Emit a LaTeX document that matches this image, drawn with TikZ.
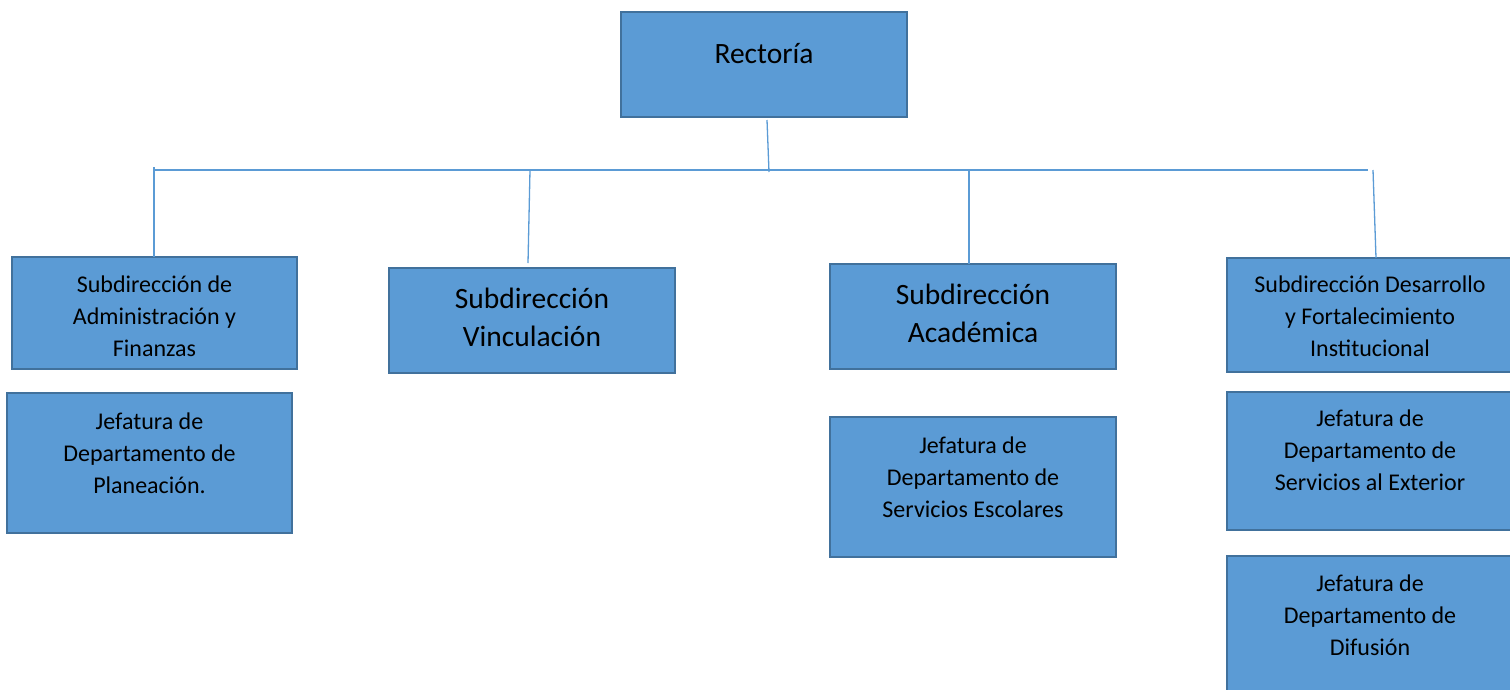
\documentclass[tikz,border=0pt]{standalone}
\usepackage{fontspec}
\setmainfont{Carlito}
\definecolor{boxfill}{HTML}{5B9BD5}
\definecolor{boxline}{HTML}{41719C}
\definecolor{connc}{HTML}{5B9BD5}
\begin{document}
\begin{tikzpicture}[x=1pt,y=-1pt,
  box/.style={draw=boxline, fill=boxfill, line width=2.5pt, rectangle, inner sep=0pt},
  small/.style={align=center, font=\fontsize{24}{31.8}\selectfont, inner sep=0pt, text=black},
  big/.style={align=center, font=\fontsize{29.5}{38}\selectfont, inner sep=0pt, text=black},
  conn/.style={draw=connc, line width=1.3pt}]
\useasboundingbox (0,0) rectangle (1510,689);
\clip (0,0) rectangle (1510,689);
% boxes
\node[box, minimum width=286pt, minimum height=105pt] (rect) at (764,64.5) {};
\node[box, minimum width=285pt, minimum height=112pt] (admin) at (154.5,313) {};
\node[box, minimum width=286pt, minimum height=105pt] (vinc) at (532,320.5) {};
\node[box, minimum width=286pt, minimum height=105pt] (acad) at (973,316.5) {};
\node[box, minimum width=286pt, minimum height=114pt] (desa) at (1370,315) {};
\node[box, minimum width=285pt, minimum height=140pt] (plan) at (149.5,463) {};
\node[box, minimum width=286pt, minimum height=140pt] (esco) at (973,487) {};
\node[box, minimum width=286pt, minimum height=138pt] (exte) at (1370,461) {};
\node[box, minimum width=286pt, minimum height=140pt] (difu) at (1370,626) {};
% texts
\node[big] (trect) at (764,54) {Rectoría};
\node[small] (tadmin) at (154.5,316) {Subdirección de\\Administración y\\Finanzas};
\node[big] (tvinc) at (532,317) {Subdirección\\Vinculación};
\node[big] (tacad) at (973,313) {Subdirección\\Académica};
\node[small] (tdesa) at (1370,316) {Subdirección Desarrollo\\y Fortalecimiento\\Institucional};
\node[small] (tplan) at (149.5,453) {Jefatura de\\Departamento de\\Planeación.};
\node[small] (tesco) at (973,477) {Jefatura de\\Departamento de\\Servicios Escolares};
\node[small] (texte) at (1370,450) {Jefatura de\\Departamento de\\Servicios al Exterior};
\node[small] (tdifu) at (1370,615) {Jefatura de\\Departamento de\\Difusión};
% connector points
\coordinate (rdown) at (767,120);
\coordinate (rbus) at (769,172);
\coordinate (busl) at (153,170);
\coordinate (busr) at (1368,170);
\coordinate (admtop) at (154,167);
\coordinate (admend) at (154,257);
\coordinate (vintop) at (530,170);
\coordinate (vinend) at (528,263);
\coordinate (acatop) at (969,170);
\coordinate (acaend) at (969,264);
\coordinate (destop) at (1373,170);
\coordinate (desend) at (1376,258);
% connectors
\draw[conn] (rdown) -- (rbus);
\draw[conn] (busl) -- (busr);
\draw[conn] (admtop) -- (admend);
\draw[conn] (vintop) -- (vinend);
\draw[conn] (acatop) -- (acaend);
\draw[conn] (destop) -- (desend);
\end{tikzpicture}
\end{document}
